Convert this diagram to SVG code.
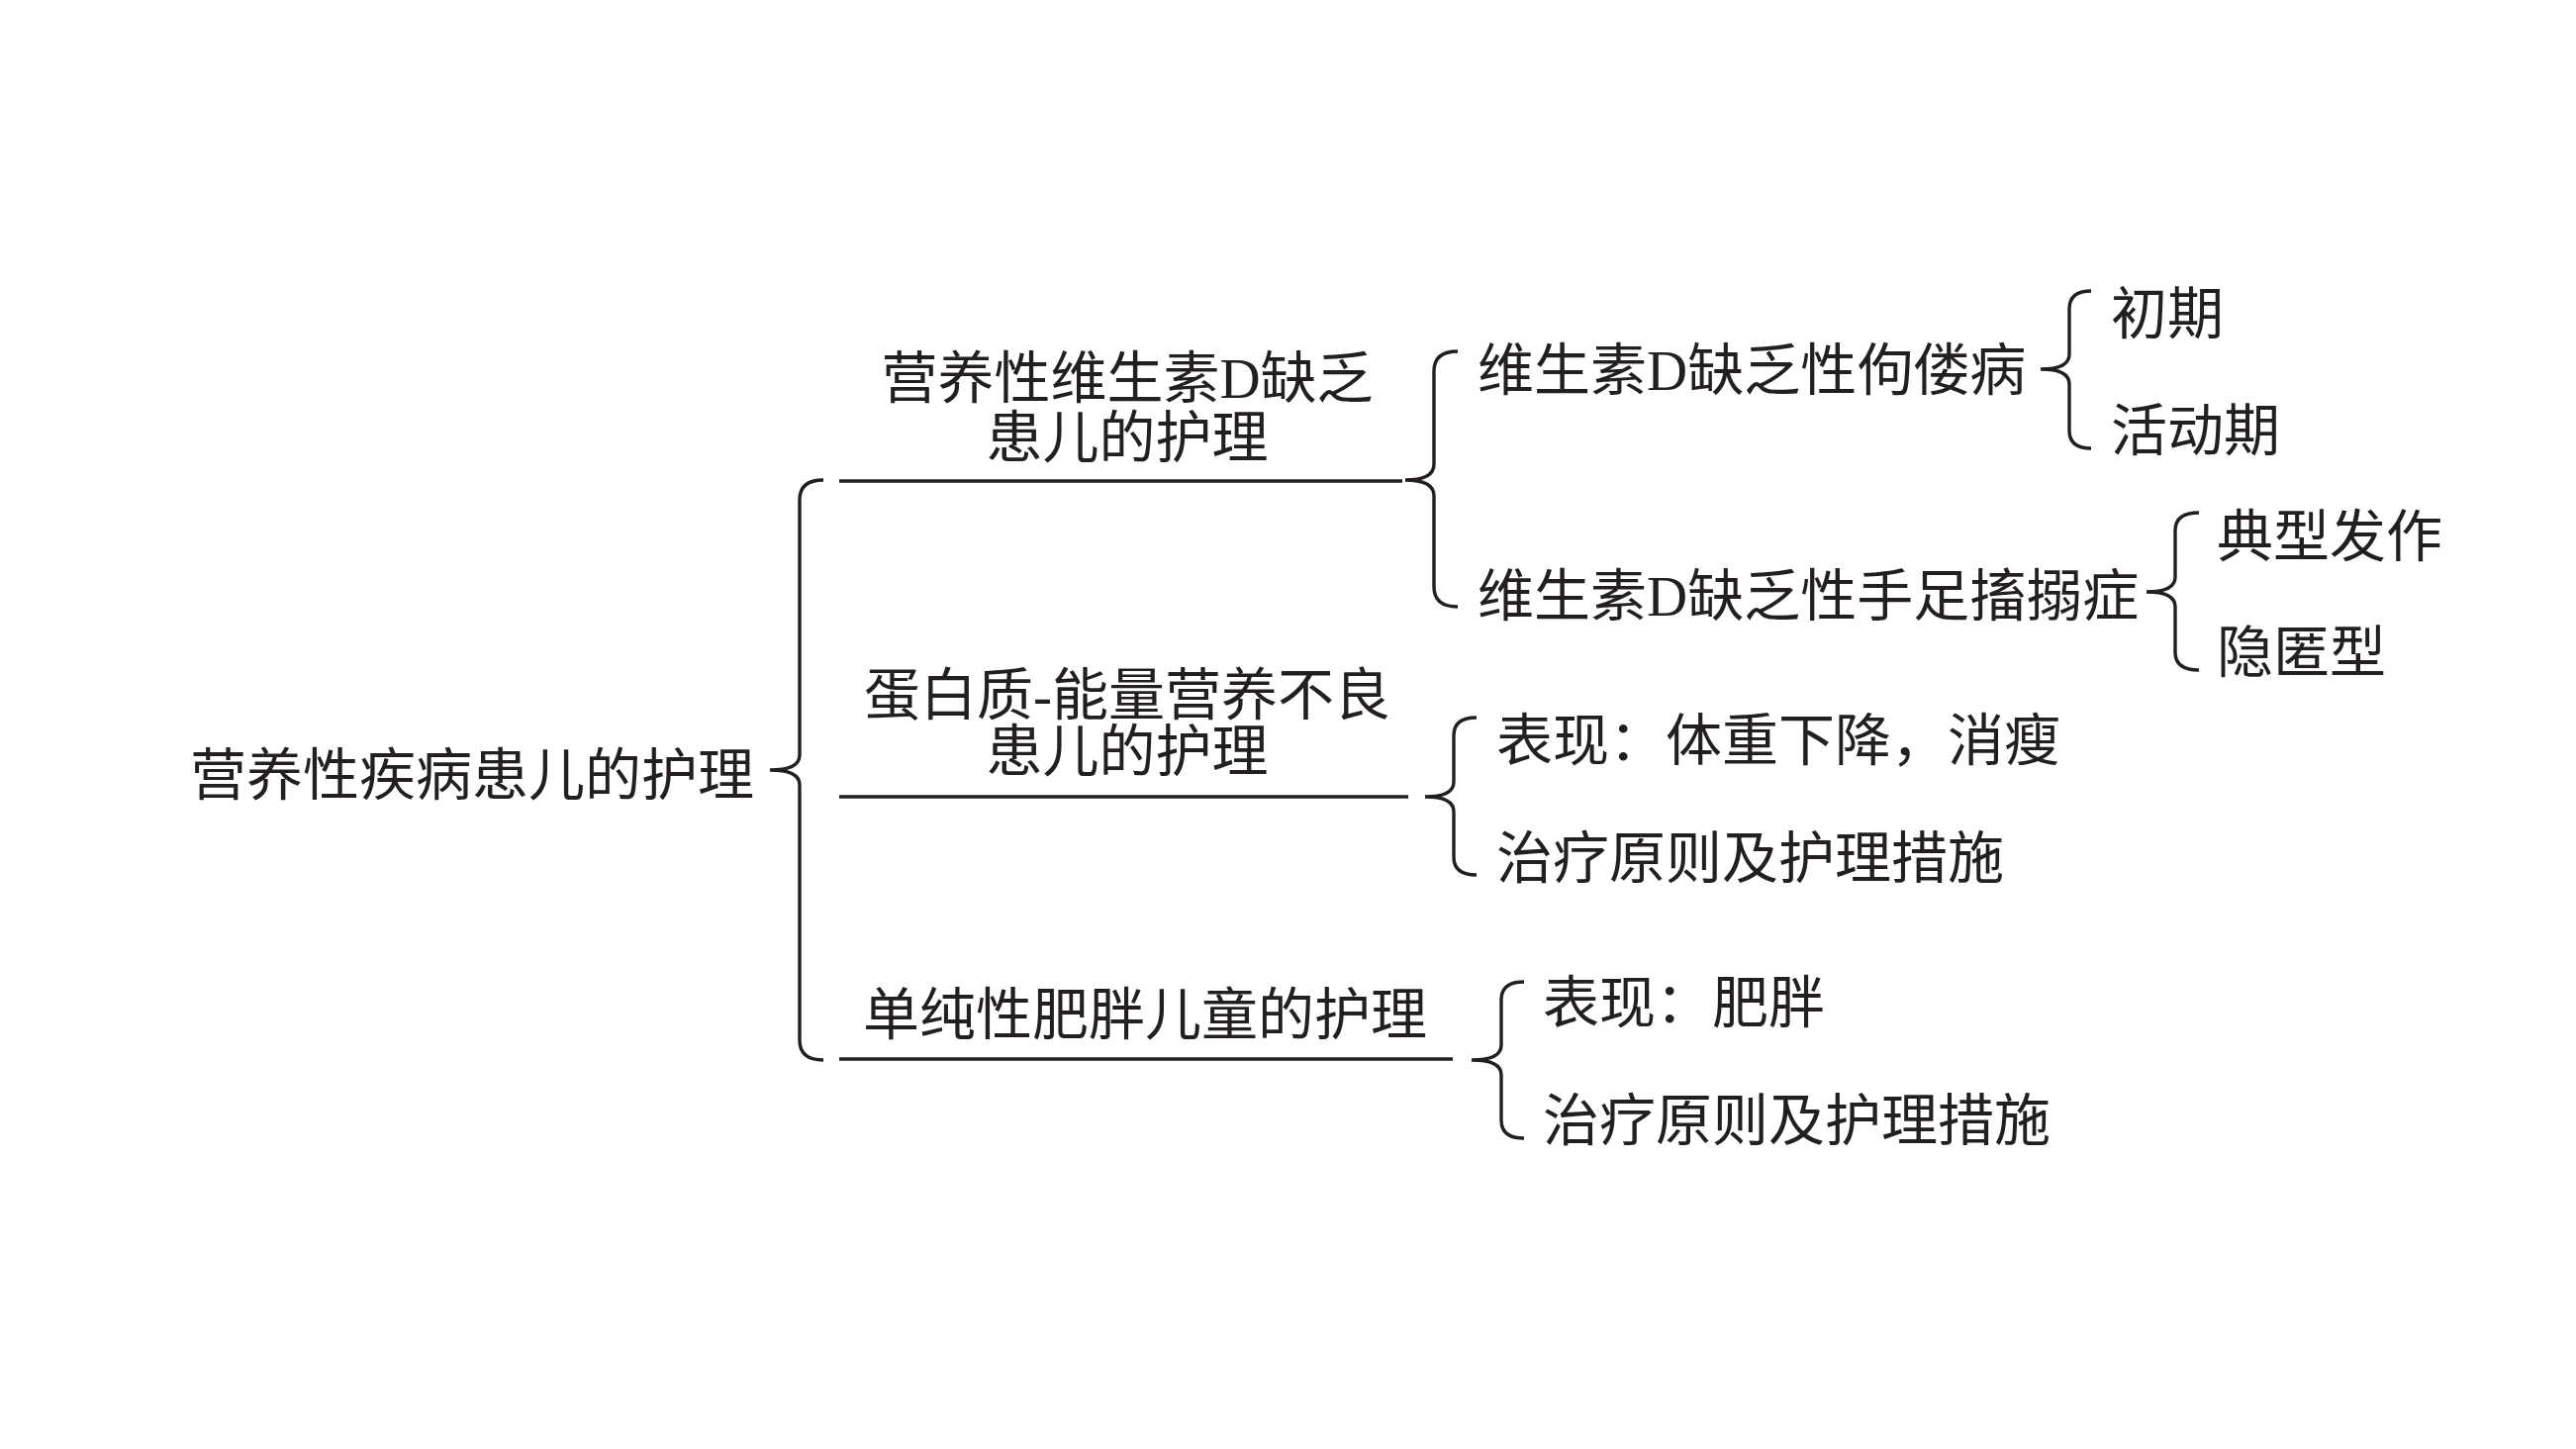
<svg xmlns="http://www.w3.org/2000/svg" width="2603" height="1464" viewBox="0 0 2603 1464">
<style>
.t{font-family:"Liberation Serif","Noto Sans CJK SC",serif;font-size:57px;fill:#231f20}
.m{text-anchor:middle}
.c{fill:none;stroke:#231f20;stroke-width:3.4}
</style>
<rect width="2603" height="1464" fill="#ffffff"/>
<g id="connectors">
<path class="c" d="M832,485 Q808,485 808,505 L808,763 Q808,778 778,778 Q808,778 808,793 L808,1051 Q808,1071 832,1071"/>
<line class="c" x1="848" y1="486" x2="1417" y2="486"/>
<line class="c" x1="848" y1="805" x2="1423" y2="805"/>
<line class="c" x1="848" y1="1070" x2="1468" y2="1070"/>
<path class="c" d="M1473,355 Q1449,355 1449,375 L1449,469 Q1449,485 1420,485 Q1449,485 1449,501 L1449,593 Q1449,613 1473,613"/>
<path class="c" d="M2113,294 Q2091,294 2091,312 L2091,358 Q2091,373 2062,373 Q2091,373 2091,388 L2091,435 Q2091,453 2113,453"/>
<path class="c" d="M2222,518 Q2198,518 2198,536 L2198,583 Q2198,598 2169,598 Q2198,598 2198,613 L2198,659 Q2198,677 2222,677"/>
<path class="c" d="M1492,725 Q1469,725 1469,743 L1469,790 Q1469,805 1440,805 Q1469,805 1469,820 L1469,866 Q1469,884 1492,884"/>
<path class="c" d="M1540,992 Q1517,992 1517,1010 L1517,1056 Q1517,1071 1487,1071 Q1517,1071 1517,1086 L1517,1132 Q1517,1150 1540,1150"/>
</g>
<g id="root"><text class="t" x="192" y="803">营养性疾病患儿的护理</text></g>
<g id="vitd"><text class="t m" x="1139" y="402">营养性维生素D缺乏</text><text class="t m" x="1139" y="462">患儿的护理</text></g>
<g id="pem"><text class="t m" x="1139" y="722">蛋白质-能量营养不良</text><text class="t m" x="1139" y="779">患儿的护理</text></g>
<g id="obesity"><text class="t m" x="1157" y="1045">单纯性肥胖儿童的护理</text></g>
<g id="rickets"><text class="t" x="1493" y="394">维生素D缺乏性佝偻病</text></g>
<g id="tetany"><text class="t" x="1493" y="622">维生素D缺乏性手足搐搦症</text></g>
<g id="early"><text class="t" x="2133" y="337">初期</text></g>
<g id="active"><text class="t" x="2133" y="455">活动期</text></g>
<g id="typical"><text class="t" x="2240" y="562">典型发作</text></g>
<g id="latent"><text class="t" x="2240" y="679">隐匿型</text></g>
<g id="pem-sign"><text class="t" x="1512" y="768">表现：体重下降，消瘦</text></g>
<g id="pem-care"><text class="t" x="1512" y="887">治疗原则及护理措施</text></g>
<g id="ob-sign"><text class="t" x="1559" y="1033">表现：肥胖</text></g>
<g id="ob-care"><text class="t" x="1559" y="1152">治疗原则及护理措施</text></g>
</svg>
